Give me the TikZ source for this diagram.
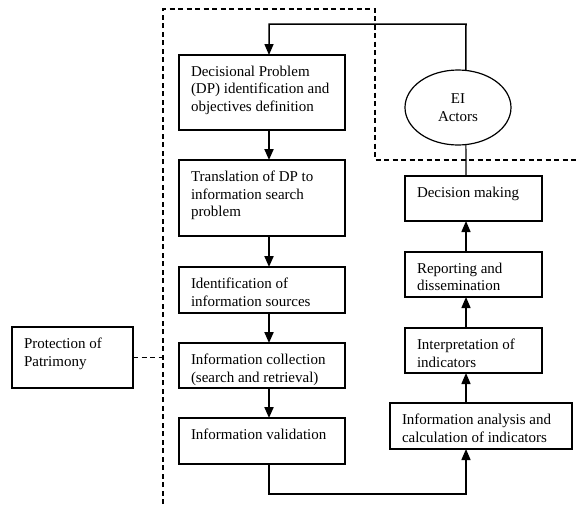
\documentclass[tikz,border=0pt]{standalone}
\usepackage{fontspec}
\setmainfont{Liberation Serif}
\usetikzlibrary{arrows.meta,shapes.geometric}
\newcommand{\boxtext}[3]{\parbox[c][#2][t]{#1}{\vspace{11pt}\raggedright #3}}
\begin{document}
\begin{tikzpicture}[x=1pt,y=-1pt,inner sep=0pt,outer sep=0pt,
font=\fontsize{15pt}{17.5pt}\selectfont,
>={Triangle[width=9pt,length=11pt]},
stepbox/.style={draw,rectangle,anchor=north west,inner xsep=12pt,inner ysep=0pt,line width=1.2pt},
flow/.style={->,line width=2pt},
flowr/.style={->,line width=1.4pt},
eibound/.style={line width=1.1pt,dash pattern=on 5pt off 3.5pt}]
\useasboundingbox (0,0) rectangle (579,504);
\coordinate (ltop) at (269,24);
\coordinate (rtop) at (466,24);
\coordinate (lbot) at (269,494);
\coordinate (rbot) at (466,494);
\coordinate (fr) at (163,9);
% search side
\draw (179,55) node[stepbox] (dp) {\boxtext{142pt}{75pt}{Decisional Problem\\(DP) identification and\\objectives definition}};
\draw (179,160) node[stepbox] (tr) {\boxtext{142pt}{76pt}{Translation of DP to\\information search\\problem}};
\draw (179,267) node[stepbox] (is) {\boxtext{142pt}{46pt}{Identification of\\information sources}};
\draw (179,343) node[stepbox] (ic) {\boxtext{142pt}{45pt}{Information collection\\(search and retrieval)}};
\draw (179,418) node[stepbox] (iv) {\boxtext{142pt}{46pt}{Information validation}};
\draw (12,327) node[stepbox] (pp) {\boxtext{97pt}{61pt}{Protection of\\Patrimony}};
% decision side
\draw (458,107.5) node[draw,ellipse,minimum width=106pt,minimum height=75pt,align=center,line width=1.2pt] (ei) {EI\\Actors};
\draw (405,176) node[stepbox] (dm) {\boxtext{113pt}{45pt}{Decision making}};
\draw (405,252) node[stepbox] (rd) {\boxtext{113pt}{45pt}{Reporting and\\dissemination}};
\draw (405,328) node[stepbox] (ip) {\boxtext{113pt}{45pt}{Interpretation of\\indicators}};
\draw (390,403) node[stepbox] (ia) {\boxtext{158pt}{46pt}{Information analysis and\\calculation of indicators}};
% connectors
\draw[flow] (dp.south -| ltop) -- (tr.north -| ltop);
\draw[flow] (tr.south -| ltop) -- (is.north -| ltop);
\draw[flow] (is.south -| ltop) -- (ic.north -| ltop);
\draw[flow] (ic.south -| ltop) -- (iv.north -| ltop);
\draw[->,line width=1.5pt] (iv.south -| lbot) -- (lbot) -- (rbot) -- (ia.south -| rbot);
\draw[flowr] (ia.north -| rtop) -- (ip.south -| rtop);
\draw[flowr] (ip.north -| rtop) -- (rd.south -| rtop);
\draw[flowr] (rd.north -| rtop) -- (dm.south -| rtop);
\draw[line width=1.2pt] (dm.north -| rtop) -- (ei.-78);
\draw[->,line width=1.5pt] (ei.78) -- (rtop) -- (ltop) -- (dp.north -| ltop);
% dashed areas
\draw[eibound] (163,504) -- (fr) -- (375,9) -- (375,160) -- (579,160);
\draw[eibound] (pp.east) -- (pp.east -| fr);
\end{tikzpicture}
\end{document}
